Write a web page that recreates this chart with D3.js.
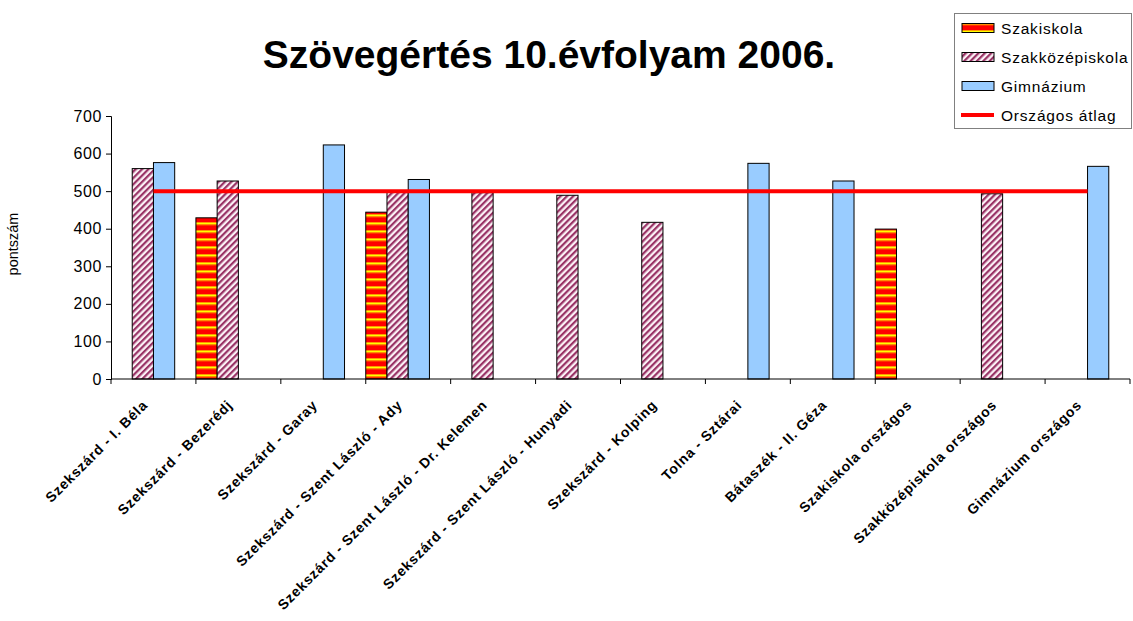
<!DOCTYPE html>
<html>
<head>
<meta charset="utf-8">
<script src="https://d3js.org/d3.v7.min.js"></script>
<style>
  html, body { margin: 0; padding: 0; background: #fff; }
  svg { display: block; font-family: "Liberation Sans", Arial, sans-serif; }
</style>
</head>
<body>
<svg id="chart" width="1133" height="621"></svg>
<script>
// chart data
const categories = [
  'Szekszárd - I. Béla',
  'Szekszárd - Bezerédj',
  'Szekszárd - Garay',
  'Szekszárd - Szent László - Ady',
  'Szekszárd - Szent László - Dr. Kelemen',
  'Szekszárd - Szent László - Hunyadi',
  'Szekszárd - Kolping',
  'Tolna - Sztárai',
  'Bátaszék - II. Géza',
  'Szakiskola országos',
  'Szakközépiskola országos',
  'Gimnázium országos'
];
const seriesNames = ['Szakiskola', 'Szakközépiskola', 'Gimnázium', 'Országos átlag'];
const szakiskola = [null, 429, null, 444, null, null, null, null, null, 399, null, null];
const szakkozep = [560, 527, null, 501, 496, 489, 417, null, null, null, 493, null];
const gimnazium = [576, null, 623, 531, null, null, null, 574, 527, null, null, 566];
const orszagosAtlag = [500, 500, 500, 500, 500, 500, 500, 500, 500, 500, 500, 500];
const yTicks = [0, 100, 200, 300, 400, 500, 600, 700];

const svg = d3.select('#chart');
const margin = { left: 111, right: 3, top: 116, bottom: 242 };
const width = 1133 - margin.left - margin.right;
const height = 621 - margin.top - margin.bottom;

// patterns
const defs = svg.append('defs');
const pStripe = defs.append('pattern')
  .attr('id', 'p-szakiskola').attr('patternUnits', 'userSpaceOnUse')
  .attr('width', 8).attr('height', 8);
pStripe.append('rect').attr('width', 8).attr('height', 8).attr('fill', '#ff0000');
pStripe.append('rect').attr('y', 2).attr('width', 8).attr('height', 1).attr('fill', '#ff9900');
pStripe.append('rect').attr('y', 3).attr('width', 8).attr('height', 1.5).attr('fill', '#ffff00');
pStripe.append('rect').attr('y', 4.5).attr('width', 8).attr('height', 0.8).attr('fill', '#ff9900');

const pHatch = defs.append('pattern')
  .attr('id', 'p-szakkozep').attr('patternUnits', 'userSpaceOnUse')
  .attr('width', 4.5).attr('height', 4.5)
  .attr('patternTransform', 'rotate(45)');
pHatch.append('rect').attr('width', 4.5).attr('height', 4.5).attr('fill', '#fbf0f5');
pHatch.append('rect').attr('width', 2.2).attr('height', 4.5).attr('fill', '#993366');

const fills = {
  'Szakiskola': 'url(#p-szakiskola)',
  'Szakközépiskola': 'url(#p-szakkozep)',
  'Gimnázium': '#99ccff'
};
const seriesData = {
  'Szakiskola': szakiskola,
  'Szakközépiskola': szakkozep,
  'Gimnázium': gimnazium
};

// title
svg.append('text')
  .attr('x', 549).attr('y', 68)
  .attr('text-anchor', 'middle')
  .attr('font-size', 39).attr('font-weight', 'bold')
  .text('Szövegértés 10.évfolyam 2006.');

const g = svg.append('g').attr('transform', `translate(${margin.left},${margin.top})`);

const x0 = d3.scaleBand().domain(categories).range([0, width]).padding(0);
const x1 = d3.scaleBand().domain(seriesNames).range([0, x0.bandwidth()]).padding(0);
const y = d3.scaleLinear().domain([0, 700]).range([height, 0]);

// y axis
const yAxis = g.append('g')
  .call(d3.axisLeft(y).tickValues(yTicks).tickSize(5).tickPadding(4));
yAxis.select('.domain').attr('stroke', '#000');
yAxis.selectAll('.tick line').attr('stroke', '#000');
yAxis.selectAll('.tick text')
  .attr('font-size', 16).attr('letter-spacing', 0.6).attr('fill', '#000')
  .attr('font-family', '"Liberation Sans", Arial, sans-serif');

// bars
['Szakiskola', 'Szakközépiskola', 'Gimnázium'].forEach((name) => {
  const vals = seriesData[name];
  g.append('g').attr('class', 'series')
    .selectAll('rect')
    .data(categories.map((c, i) => ({ c, v: vals[i] })).filter(d => d.v != null))
    .enter()
    .append('rect')
    .attr('x', d => x0(d.c) + x1(name))
    .attr('y', d => y(d.v))
    .attr('width', x1.bandwidth())
    .attr('height', d => height - y(d.v))
    .attr('fill', fills[name])
    .attr('stroke', '#000')
    .attr('stroke-width', 1);
});

// x axis line and ticks at category boundaries
g.append('line')
  .attr('x1', 0).attr('x2', width)
  .attr('y1', height).attr('y2', height)
  .attr('stroke', '#000');
const bounds = categories.map(c => x0(c)).concat([x0.range()[1]]);
g.append('g').selectAll('line')
  .data(bounds).enter().append('line')
  .attr('x1', d => d).attr('x2', d => d)
  .attr('y1', height).attr('y2', height + 5)
  .attr('stroke', '#000');

// national average line
const avgLine = d3.line()
  .x((d, i) => x0(categories[i]) + x0.bandwidth() / 2)
  .y(d => y(d));
g.append('path')
  .datum(orszagosAtlag)
  .attr('d', avgLine)
  .attr('fill', 'none')
  .attr('stroke', '#ff0000')
  .attr('stroke-width', 4);

// category labels
g.append('g').selectAll('text')
  .data(categories).enter().append('text')
  .attr('transform', c => `translate(${x0(c) + x0.bandwidth() / 2 - 5},${height + 27}) rotate(-45)`)
  .attr('text-anchor', 'end')
  .attr('font-size', 14).attr('font-weight', 'bold').attr('letter-spacing', 0.8)
  .text(c => c);

// y axis title
svg.append('text')
  .attr('transform', 'translate(18,244) rotate(-90)')
  .attr('text-anchor', 'middle')
  .attr('font-size', 14.5)
  .text('pontszám');

// legend
const legend = svg.append('g').attr('transform', 'translate(954,13)');
legend.append('rect')
  .attr('x', 0.5).attr('y', 0.5).attr('width', 177).attr('height', 115)
  .attr('fill', '#fff').attr('stroke', '#808080').attr('stroke-width', 1);
seriesNames.forEach((name, i) => {
  const row = legend.append('g').attr('transform', `translate(0,${15 + i * 29})`);
  if (name === 'Országos átlag') {
    row.append('line')
      .attr('x1', 7).attr('x2', 40).attr('y1', 0).attr('y2', 0)
      .attr('stroke', '#ff0000').attr('stroke-width', 4);
  } else {
    row.append('rect')
      .attr('x', 8).attr('y', -4.5).attr('width', 32).attr('height', 9)
      .attr('fill', fills[name]).attr('stroke', '#000');
  }
  row.append('text')
    .attr('x', 47).attr('y', 5.5)
    .attr('font-size', 15.5).attr('letter-spacing', 0.8)
    .text(name);
});
</script>
</body>
</html>
